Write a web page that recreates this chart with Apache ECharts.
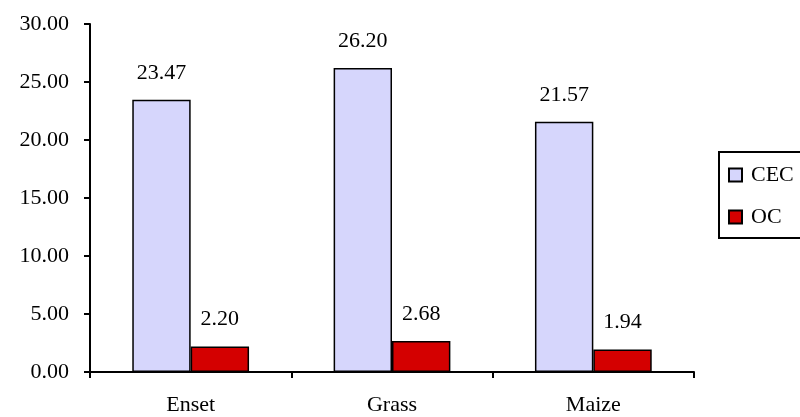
<!DOCTYPE html>
<html>
<head>
<meta charset="utf-8">
<script src="https://cdn.jsdelivr.net/npm/echarts@6/dist/echarts.min.js"></script>
<style>
  html, body { margin: 0; padding: 0; background: #fff; }
  #chart { width: 800px; height: 417px; }
</style>
</head>
<body>
<div id="chart"></div>
<script>
// Soil properties by land use
const categories = ['Enset', 'Grass', 'Maize'];
const cecValues = [23.47, 26.20, 21.57];
const ocValues = [2.20, 2.68, 1.94];
const seriesNames = ['CEC', 'OC'];

const FONT = '"Liberation Serif", "Times New Roman", serif';
const FONT_SIZE = 22;
const fmt = v => Number(v).toFixed(2);

const chart = echarts.init(document.getElementById('chart'), null, { renderer: 'canvas' });

const barLabel = {
  show: true,
  position: 'top',
  distance: 16,
  color: '#000',
  fontFamily: FONT,
  fontSize: FONT_SIZE,
  formatter: p => fmt(p.value)
};

chart.setOption({
  animation: false,
  backgroundColor: '#fff',
  textStyle: { fontFamily: FONT, color: '#000' },
  grid: { left: 90, right: 106, top: 24, bottom: 45, containLabel: false },
  legend: {
    orient: 'vertical',
    left: 719,
    top: 152,
    data: seriesNames,
    itemWidth: 13,
    itemHeight: 13,
    itemGap: 20,
    icon: 'rect',
    padding: [12, 60, 10, 9],
    borderColor: '#000',
    borderWidth: 2,
    borderRadius: 0,
    textStyle: { fontFamily: FONT, fontSize: FONT_SIZE, color: '#000', padding: [0, 0, 0, 4] }
  },
  xAxis: {
    type: 'category',
    data: categories,
    axisLine: { lineStyle: { color: '#000', width: 2 } },
    axisTick: { show: true, length: 6, alignWithLabel: false, lineStyle: { color: '#000', width: 2 } },
    axisLabel: { color: '#000', fontFamily: FONT, fontSize: FONT_SIZE, margin: 22 },
    splitLine: { show: false }
  },
  yAxis: {
    type: 'value',
    min: 0,
    max: 30,
    interval: 5,
    axisLine: { show: true, lineStyle: { color: '#000', width: 2 } },
    axisTick: { show: true, length: 6, lineStyle: { color: '#000', width: 2 } },
    axisLabel: { color: '#000', fontFamily: FONT, fontSize: FONT_SIZE, margin: 21, formatter: fmt },
    splitLine: { show: false }
  },
  series: [
    {
      name: seriesNames[0],
      type: 'bar',
      data: cecValues,
      barGap: '0%',
      barCategoryGap: '42%',
      itemStyle: { color: '#d6d6fc', borderColor: '#000', borderWidth: 1.5 },
      label: barLabel
    },
    {
      name: seriesNames[1],
      type: 'bar',
      data: ocValues,
      barGap: '0%',
      barCategoryGap: '42%',
      itemStyle: { color: '#d40000', borderColor: '#000', borderWidth: 1.5 },
      label: barLabel
    }
  ]
});
</script>
</body>
</html>
